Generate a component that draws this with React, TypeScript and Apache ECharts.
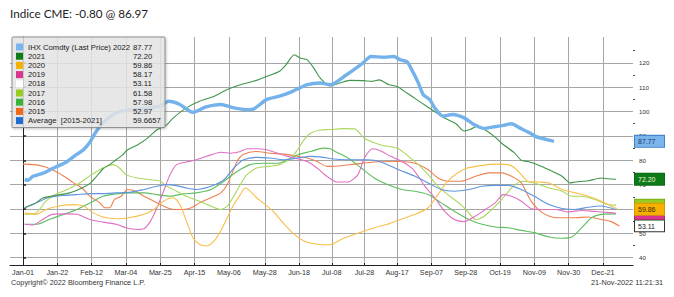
import React, { useEffect, useRef } from "react";
import * as echarts from "echarts";

// ---- axis ticks (days counted from Jan-01) ----
const tickDays = [0, 21, 42, 63, 84, 105, 126, 148, 169, 189, 209, 229, 250, 271, 292, 313, 334, 355];
const tickLabels = ["Jan-01", "Jan-22", "Feb-12", "Mar-04", "Mar-25", "Apr-15", "May-06", "May-28", "Jun-18", "Jul-08", "Jul-28", "Aug-17", "Sep-07", "Sep-28", "Oct-19", "Nov-09", "Nov-30", "Dec-21"];
const yTicks = [40, 50, 60, 70, 80, 90, 100, 110, 120];
const yMinorTicks = [45, 55, 65, 75, 85, 95, 105, 115, 125];

// ---- legend ----
const seriesNames = ["IHX Comdty (Last Price) 2022", "2021", "2020", "2019", "2018", "2017", "2016", "2015", "Average  [2015-2021]"];
const lastValues = ["87.77", "72.20", "59.86", "58.17", "53.11", "61.58", "57.98", "52.97", "59.6657"];

// ---- series values: [day, price] ----
const s2022: number[][] = [[1,72.0],[3,71.8],[6,73.4],[10,74.2],[14,75.2],[18,76.6],[22,77.8],[27,79.5],[32,82.0],[37,84.3],[41,87.5],[44,91.0],[47,93.8],[53,97.8],[59,100.0],[67,100.8],[76,101.5],[84,102.2],[89,104.2],[96,102.9],[104,99.7],[112,101.9],[121,102.9],[129,101.5],[137,100.8],[141,101.0],[149,104.9],[157,106.3],[165,108.3],[174,111.0],[182,111.7],[188,111.0],[198,115.1],[208,119.9],[213,122.6],[221,122.3],[227,122.6],[231,121.2],[235,120.5],[238,117.1],[242,111.7],[245,106.9],[249,104.9],[252,101.5],[257,98.1],[263,98.8],[270,97.4],[276,94.7],[282,93.1],[288,93.7],[294,94.3],[299,95.0],[304,93.3],[310,91.3],[314,89.7],[320,88.6],[325,87.77]];
const s2021: number[][] = [[1,60.5],[8,62.5],[12,64.5],[20,65.6],[28,66.5],[36,68.6],[41,70.5],[45,73.4],[49,76.5],[53,78.2],[57,80.2],[61,82.2],[64,84.3],[70,86.3],[76,89.0],[82,92.5],[87,94.0],[92,97.4],[100,101.5],[108,104.2],[117,106.3],[125,109.0],[133,111.0],[141,112.4],[149,114.4],[157,116.5],[161,119.2],[166,123.3],[170,121.9],[174,121.2],[178,117.8],[182,113.7],[188,110.5],[194,111.7],[200,112.8],[208,112.7],[214,112.4],[218,113.0],[224,111.0],[229,110.3],[235,107.6],[241,104.9],[247,102.2],[253,99.5],[259,97.0],[265,95.0],[270,92.0],[274,92.7],[278,94.0],[284,92.0],[289,89.5],[293,87.0],[301,82.9],[305,80.0],[309,79.5],[315,78.2],[322,76.1],[330,73.4],[335,70.7],[338,71.1],[346,71.6],[354,72.7],[358,72.4],[363,72.2]];
const s2020: number[][] = [[1,58.4],[8,57.8],[14,59.8],[22,61.2],[31,61.8],[37,61.2],[43,58.4],[49,56.7],[57,56.0],[65,56.4],[74,57.8],[80,59.8],[86,63.2],[92,64.6],[96,61.8],[100,55.0],[104,48.2],[108,45.5],[112,44.8],[117,46.9],[121,51.0],[125,56.4],[129,61.8],[133,65.9],[136,68.6],[139,67.3],[143,64.6],[147,62.5],[153,59.1],[160,53.7],[166,49.6],[172,46.9],[180,45.5],[188,45.3],[195,47.6],[203,49.6],[209,51.0],[215,52.3],[223,53.7],[231,55.7],[240,57.8],[248,60.5],[254,65.9],[260,71.4],[266,74.8],[272,76.8],[281,77.9],[289,78.4],[297,78.2],[301,76.8],[305,74.1],[309,71.4],[315,71.1],[322,70.7],[330,68.0],[338,66.6],[346,65.2],[354,63.2],[360,61.2],[364,59.9]];
const s2019: number[][] = [[1,53.7],[6,53.4],[12,55.7],[18,57.8],[27,58.0],[33,57.8],[41,55.7],[49,54.6],[57,53.7],[63,52.3],[70,51.6],[74,51.9],[78,55.0],[82,60.5],[86,67.3],[90,74.1],[94,78.2],[100,79.3],[106,80.2],[115,82.2],[121,83.3],[127,82.9],[133,83.6],[137,84.7],[143,84.7],[149,84.3],[156,82.9],[162,81.6],[168,80.6],[174,79.5],[180,76.8],[186,73.4],[192,71.1],[199,71.1],[205,74.1],[209,80.9],[214,84.7],[219,83.8],[225,81.6],[232,79.5],[238,76.8],[242,73.4],[246,69.3],[252,64.6],[258,59.1],[264,55.7],[270,54.8],[277,57.1],[283,59.8],[289,62.5],[294,65.9],[299,65.2],[305,63.2],[311,60.2],[318,59.8],[326,59.8],[334,58.8],[342,59.4],[350,59.0],[358,58.6],[363,58.2]];
const s2018: number[][] = [];
const s2017: number[][] = [[1,57.8],[8,58.4],[14,63.2],[20,65.9],[27,68.0],[33,70.0],[39,72.7],[45,75.4],[51,77.5],[55,78.2],[59,76.8],[63,74.1],[70,72.7],[78,72.0],[84,71.4],[88,69.3],[94,67.3],[100,65.2],[108,63.2],[115,61.2],[121,59.8],[125,61.2],[129,65.2],[133,70.0],[137,74.1],[143,76.8],[151,77.5],[157,78.2],[164,80.9],[168,84.3],[172,88.4],[176,91.1],[182,92.4],[188,92.6],[196,93.0],[203,92.9],[209,89.0],[219,86.3],[229,85.0],[236,81.6],[242,78.2],[248,74.1],[254,69.3],[260,65.9],[268,61.8],[272,59.1],[277,55.7],[281,56.4],[287,59.8],[293,63.9],[299,68.6],[305,71.4],[313,70.7],[322,68.6],[330,67.3],[336,65.2],[342,65.2],[350,63.9],[358,61.8],[363,61.6]];
const s2016: number[][] = [[1,53.7],[8,53.7],[16,55.7],[25,57.8],[33,59.8],[41,62.5],[49,65.2],[57,66.2],[66,66.6],[74,66.6],[82,65.9],[90,65.2],[98,66.2],[106,66.6],[115,68.0],[123,71.4],[131,75.4],[139,78.2],[147,78.8],[156,78.8],[162,80.2],[168,82.2],[176,83.6],[184,85.0],[188,84.7],[191,83.6],[199,80.9],[207,76.8],[215,72.7],[223,70.0],[232,68.0],[240,67.3],[248,65.9],[256,62.5],[264,59.1],[273,55.7],[281,53.7],[289,52.6],[297,52.3],[305,51.2],[313,50.3],[322,48.5],[330,48.0],[336,48.5],[342,52.3],[348,56.4],[354,57.8],[363,58.0]];
const s2015: number[][] = [[0,78.4],[10,77.9],[18,76.1],[25,73.4],[31,70.7],[36,68.6],[41,65.2],[47,62.5],[50,60.5],[53,60.5],[56,63.9],[60,65.2],[64,68.0],[69,67.3],[74,65.2],[80,63.2],[86,61.2],[92,59.8],[98,59.8],[103,60.5],[108,62.5],[115,64.6],[121,66.6],[125,70.0],[131,79.5],[135,82.5],[143,83.6],[151,82.9],[160,82.5],[168,81.6],[174,80.9],[180,79.5],[186,77.5],[189,77.5],[203,78.4],[215,79.3],[230,79.5],[240,78.8],[248,76.1],[254,72.7],[260,71.4],[268,71.4],[277,73.4],[285,74.8],[293,74.8],[299,73.4],[305,70.7],[311,63.2],[318,58.4],[326,56.4],[338,56.4],[346,56.7],[354,55.7],[360,54.8],[365,53.0]];
const sAvg: number[][] = [[1,60.5],[8,62.5],[16,64.8],[25,65.6],[33,65.9],[41,66.3],[49,66.3],[57,66.6],[66,66.9],[74,68.0],[82,69.3],[88,70.0],[94,69.6],[100,68.6],[106,68.0],[115,69.3],[123,72.0],[129,76.8],[135,80.2],[143,81.2],[151,80.9],[160,80.2],[168,80.9],[176,81.6],[184,81.2],[189,80.6],[199,80.2],[211,80.2],[219,79.3],[230,76.1],[240,73.4],[248,70.7],[256,68.0],[264,67.3],[273,68.0],[281,69.3],[289,69.7],[297,69.7],[305,68.0],[313,65.2],[322,61.8],[330,60.2],[338,59.8],[346,60.7],[354,61.2],[363,59.7]];

const seriesData = [s2022, s2021, s2020, s2019, s2018, s2017, s2016, s2015, sAvg];
const swatchColors = ["#7ab6ec", "#0e7a18", "#f5b000", "#d8368c", "#ffffff", "#98cc20", "#38b43a", "#f06818", "#1f6ed0"];
const lineColors = ["#74b2ec", "#3f9548", "#f8bf4a", "#de6fc3", "#ffffff", "#aad75c", "#5fbe5f", "#ee8050", "#5f95e0"];
const tagText = ["#17355e", "#eef7d8", "#3a2a00", "#ffffff", "#222222", "#203000", "#ffffff", "#ffffff", "#ffffff"];
const tagBorder = ["#3f80c6", "#0e6a14", "#d89a00", "#b02a70", "#333333", "#7aa818", "#2a9030", "#c85010", "#1f6ed0"];
// tags whose numbers are hidden under another tag in the reference
const coveredTags = [3, 5, 6, 7];

const FONT = "Liberation Sans, Arial, sans-serif";
const X_MIN = -8;
const X_MAX = 373.4;
const Y_MIN = 37;
const Y_MAX = 130.6;
const GRID_STYLE = { color: "#a6a6a6", type: "solid", width: 1 };

function buildOption() {
  const drawOrder = [4, 7, 6, 5, 3, 2, 8, 1, 0];
  const legendRich: any = {
    n: { width: 105, fontSize: 7.7, lineHeight: 8, color: "#1a1a1a", fontFamily: FONT },
    v: { width: 28, fontSize: 7.7, lineHeight: 8, color: "#1a1a1a", fontFamily: FONT },
  };
  const tagRich: any = {};
  seriesNames.forEach((_, i) => {
    tagRich["t" + i] = {
      backgroundColor: swatchColors[i],
      borderColor: tagBorder[i],
      borderWidth: 1,
      color: tagText[i],
      fontSize: 7,
      fontFamily: FONT,
      padding: [2, 3, 1, 3],
      width: 23,
      height: 8,
      lineHeight: 8,
    };
  });
  const tagIdx = [7, 4, 6, 3, 5, 1, 0];
  const tagVals = tagIdx.map((i) => parseFloat(lastValues[i]));
  const topIdx = 2;
  const tagFormatter = (v: number) => {
    const i = seriesNames.findIndex((_, k) => k !== 8 && Math.abs(parseFloat(lastValues[k]) - v) < 0.001);
    if (i < 0) return "";
    const txt = coveredTags.includes(i) ? "\u00A0" : lastValues[i];
    return `{t${i}|${txt}}`;
  };

  const series: any[] = [];
  drawOrder.forEach((i) => {
    series.push({
      name: seriesNames[i],
      type: "line",
      data: seriesData[i],
      showSymbol: false,
      smooth: 0.25,
      z: 3,
      itemStyle: { color: swatchColors[i] },
      lineStyle: { color: lineColors[i], width: i === 0 ? 3.4 : 1.1 },
    });
  });

  return {
    animation: false,
    backgroundColor: "#ffffff",
    textStyle: { fontFamily: FONT },
    grid: { left: 10, right: 41, top: 37, bottom: 32, outerBoundsMode: "none" },
    legend: {
      orient: "vertical",
      left: 12,
      top: 37,
      data: seriesNames,
      icon: "rect",
      itemWidth: 7,
      itemHeight: 7,
      itemGap: 1.2,
      padding: [6, 4, 3, 4],
      backgroundColor: "rgba(232,232,232,0.82)",
      borderColor: "#8c8c8c",
      borderWidth: 1,
      borderRadius: 1,
      shadowColor: "rgba(0,0,0,0.25)",
      shadowBlur: 2,
      shadowOffsetX: 1,
      shadowOffsetY: 1,
      selectedMode: false,
      z: 10,
      textStyle: { fontFamily: FONT, fontSize: 7.7, color: "#1a1a1a", rich: legendRich },
      formatter: (name: string) => {
        const i = seriesNames.indexOf(name);
        return `{n|${name}}{v|${lastValues[i]}}`;
      },
    },
    xAxis: [
      {
        type: "value",
        min: X_MIN,
        max: X_MAX,
        axisLine: { show: true, lineStyle: { color: "#222", width: 1 } },
        axisTick: { show: true, inside: true, length: 2, customValues: tickDays, lineStyle: { color: "#222" } },
        axisLabel: {
          customValues: tickDays,
          fontSize: 7.2,
          color: "#333",
          fontFamily: FONT,
          margin: 4,
          formatter: (v: number) => tickLabels[tickDays.indexOf(Math.round(v))] ?? "",
        },
        splitLine: { show: true, lineStyle: GRID_STYLE },
      },
    ],
    yAxis: [
      {
        type: "value",
        position: "right",
        min: Y_MIN,
        max: Y_MAX,
        axisLine: { show: true, lineStyle: { color: "#222", width: 1 } },
        axisTick: { show: true, length: 3, customValues: yTicks, lineStyle: { color: "#222", width: 1.5 } },
        axisLabel: { customValues: yTicks, fontSize: 6.2, color: "#333", fontFamily: FONT, margin: 6 },
        splitLine: { show: true, lineStyle: GRID_STYLE },
      },
      {
        type: "value",
        position: "right",
        min: Y_MIN,
        max: Y_MAX,
        axisLine: { show: false },
        axisTick: { show: true, length: 2, customValues: yMinorTicks, lineStyle: { color: "#444" } },
        axisLabel: { customValues: tagVals, margin: 2, formatter: tagFormatter, rich: tagRich },
        splitLine: { show: false },
      },
      {
        type: "value",
        position: "right",
        min: Y_MIN,
        max: Y_MAX,
        axisLine: { show: false },
        axisTick: { show: false },
        axisLabel: { customValues: [parseFloat(lastValues[topIdx])], margin: 2, formatter: tagFormatter, rich: tagRich },
        splitLine: { show: false },
      },
    ],
    graphic: [
      {
        type: "text",
        left: 10,
        top: 7,
        style: { text: "Indice CME: -0.80 @ 86.97", font: "11.7px Lato, sans-serif", fill: "#222" },
      },
      {
        type: "text",
        left: 11,
        top: 279,
        style: { text: "Copyright\u00A9 2022 Bloomberg Finance L.P.", font: `7.3px ${FONT}`, fill: "#333" },
      },
      {
        type: "text",
        right: 11,
        top: 279,
        style: { text: "21-Nov-2022 11:21:31", font: `7.3px ${FONT}`, fill: "#333" },
      },
    ],
    series,
  };
}

export default function App() {
  const ref = useRef<HTMLDivElement>(null);
  useEffect(() => {
    if (!ref.current) return;
    const chart = echarts.init(ref.current, null, { renderer: "svg" });
    chart.setOption(buildOption() as any);
    return () => chart.dispose();
  }, []);
  return <div ref={ref} style={{ position: "absolute", left: 0, top: 0, width: 674, height: 297 }} />;
}
